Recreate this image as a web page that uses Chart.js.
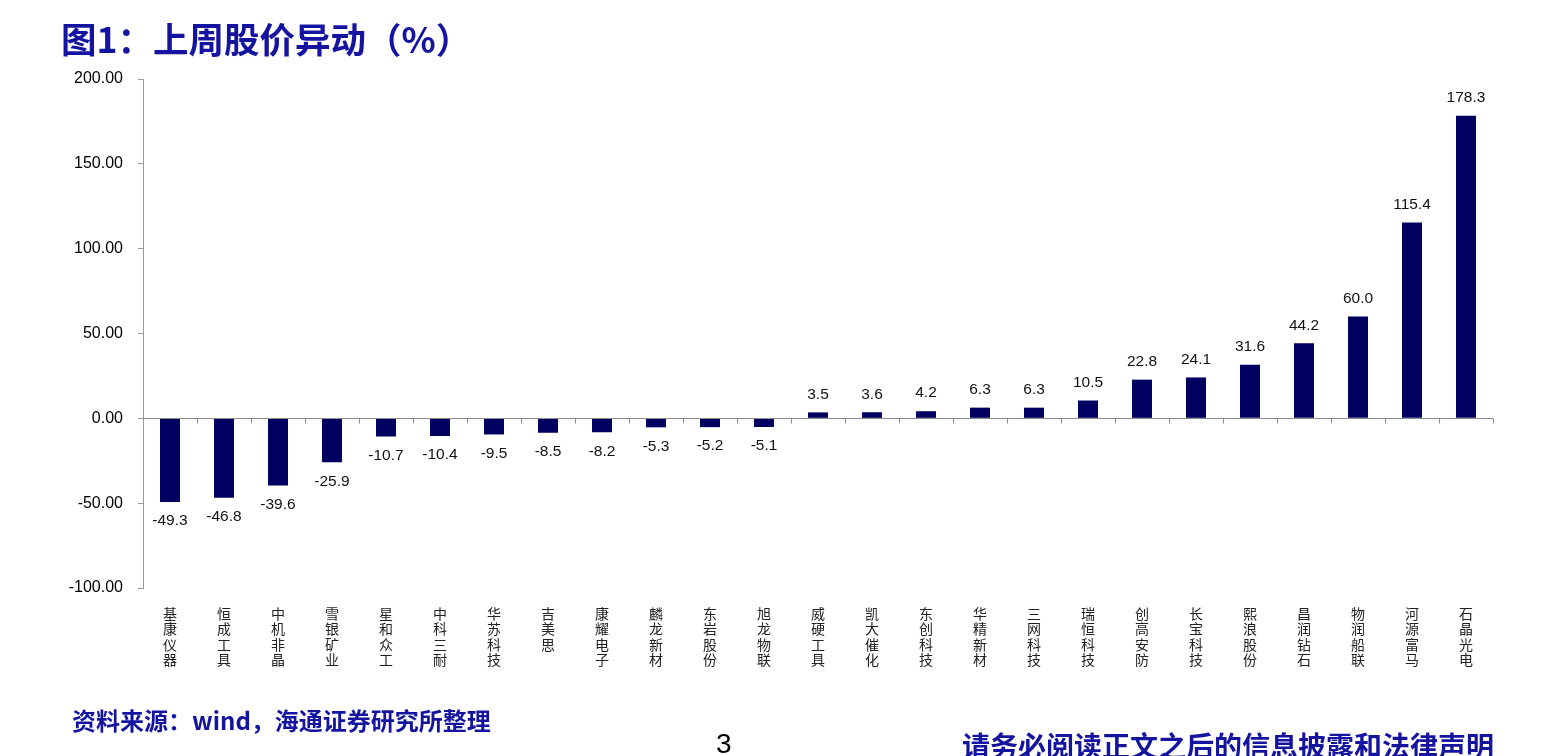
<!DOCTYPE html>
<html><head><meta charset="utf-8">
<script src="https://cdn.jsdelivr.net/npm/chart.js@4"></script>
<style>
html,body{margin:0;padding:0;background:#fff;}
#wrap{position:relative;width:1560px;height:756px;overflow:hidden;}
canvas{position:absolute;left:0;top:0;}
.t{position:absolute;white-space:nowrap;font-family:"Noto Sans CJK SC";font-weight:bold;color:#1414a0;}
</style></head><body>
<div id="wrap">
<canvas id="c" width="1560" height="756"></canvas>
<div class="t" style="left:61px;top:16px;font-size:35.5px;line-height:44px;">图1：上周股价异动（%）</div>
<div class="t" style="left:72px;top:707px;font-size:24px;line-height:26px;">资料来源：wind，海通证券研究所整理</div>
<div style="position:absolute;left:716px;top:729px;font-family:'Liberation Sans Narrow','Liberation Sans';font-size:28px;line-height:30px;color:#000;">3</div>
<div class="t" style="left:962px;top:730px;font-size:28px;line-height:30px;">请务必阅读正文之后的信息披露和法律声明</div>
</div>
<script>
const names = ['基康仪器','恒成工具','中机非晶','雪银矿业','星和众工','中科三耐','华苏科技','吉美思','康耀电子','麟龙新材','东岩股份','旭龙物联','威硬工具','凯大催化','东创科技','华精新材','三网科技','瑞恒科技','创高安防','长宝科技','熙浪股份','昌润钻石','物润船联','河源富马','石晶光电'];
const values = [-49.3,-46.8,-39.6,-25.9,-10.7,-10.4,-9.5,-8.5,-8.2,-5.3,-5.2,-5.1,3.5,3.6,4.2,6.3,6.3,10.5,22.8,24.1,31.6,44.2,60.0,115.4,178.3];
const yMin = -100, yMax = 200, yStep = 50;

const valuePlugin = {
  id: 'vals',
  afterDatasetsDraw(chart) {
    const {ctx, scales: {x, y}} = chart;
    const y0 = Math.round(y.getPixelForValue(0)) + 0.5;
    ctx.save();
    ctx.strokeStyle = '#8c8c8c';
    ctx.lineWidth = 1;
    ctx.beginPath();
    ctx.moveTo(x.left, y0);
    ctx.lineTo(x.right, y0);
    for (let i = 1; i <= values.length; i++) {
      const bx = Math.round(x.getPixelForValue(i - 0.5)) + 0.5;
      ctx.moveTo(bx, y0);
      ctx.lineTo(bx, y0 + 5);
    }
    ctx.stroke();
    const meta = chart.getDatasetMeta(0);
    ctx.fillStyle = '#111';
    ctx.font = '15.5px "Liberation Sans", Arial, sans-serif';
    ctx.textAlign = 'center';
    ctx.textBaseline = 'middle';
    meta.data.forEach((bar, i) => {
      const v = values[i];
      const ty = v >= 0 ? bar.y - 18 : bar.y + 19;
      ctx.fillText(v.toFixed(1), bar.x, ty);
    });
    ctx.restore();
  }
};

new Chart(document.getElementById('c'), {
  type: 'bar',
  data: {
    labels: names.map(n => n.split('')),
    datasets: [{
      data: values,
      backgroundColor: '#000060',
      barPercentage: 0.37,
      categoryPercentage: 1
    }]
  },
  options: {
    responsive: false,
    animation: false,
    layout: {padding: {left: 0, top: 79, right: 67, bottom: 0}},
    plugins: {legend: {display: false}, tooltip: {enabled: false}},
    scales: {
      x: {
        grid: {display: false},
        border: {display: false},
        ticks: {font: {family: 'Noto Sans CJK SC', size: 14, lineHeight: 1.1}, color: '#222', padding: 10, maxRotation: 0, autoSkip: false},
        afterFit(s) { s.height = 168; }
      },
      y: {
        min: yMin, max: yMax,
        ticks: {stepSize: yStep, callback: v => Number(v).toFixed(2), font: {family: 'Liberation Sans', size: 16}, color: '#000', padding: 15},
        grid: {drawOnChartArea: false, tickLength: 5, color: '#9a9a9a'},
        border: {color: '#9a9a9a'},
        afterFit(s) { s.width = 143; }
      }
    }
  },
  plugins: [valuePlugin]
});
</script>
</body></html>
